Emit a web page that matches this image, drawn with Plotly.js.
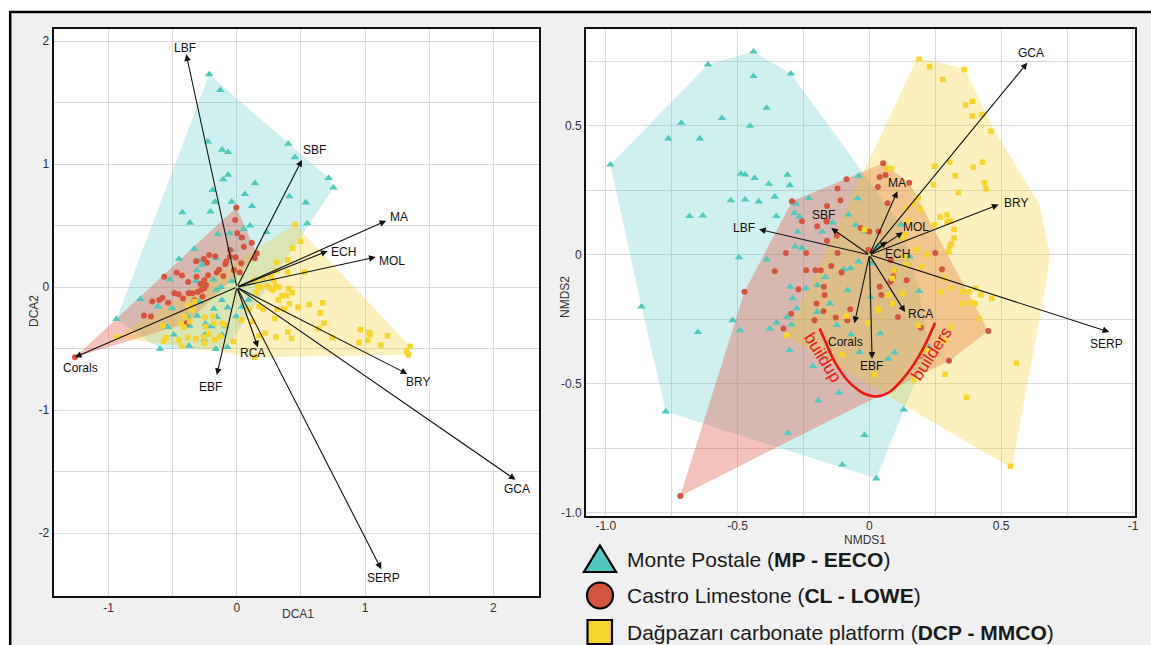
<!DOCTYPE html>
<html><head><meta charset="utf-8">
<script src="https://cdn.plot.ly/plotly-3.0.1.min.js"></script>
<style>html,body{margin:0;padding:0;background:#fff;}#chart{width:1151px;height:645px;}</style>
</head><body><div id="chart"></div>
<script>
// ================= DATA =================
const groupNames = ['Monte Postale', 'Castro Limestone', 'Dağpazarı carbonate platform'];
const groupCodes = ['MP - EECO', 'CL - LOWE', 'DCP - MMCO'];

// --- DCA (left panel) sample scores ---
const dcaMP = [
[-0.216,1.730],[-0.129,1.602],[-0.227,1.185],[-0.115,1.117],[-0.068,1.098],[0.400,1.166],[0.452,1.057],[0.715,0.888],[0.753,0.809],[0.142,0.845],[-0.068,0.913],[-0.107,0.877],[-0.189,0.790],[0.063,0.757],[0.408,0.738],
[-0.170,0.695],[-0.041,0.695],[0.118,0.659],[0.537,0.689],[0.549,0.519],[0.231,0.449],[0.036,0.403],
[-0.206,0.614],[-0.425,0.608],[-0.366,0.524],[0.103,0.500],[-0.149,0.430],[-0.057,0.438],[0.054,0.473],[-0.332,0.311],[-0.451,0.230],[-0.162,0.235],[-0.296,0.214],[-0.312,0.138],[-0.271,0.181],[-0.521,0.062],[-0.320,0.049],[-0.183,0.062],[-0.039,0.049],[-0.160,-0.022],[-0.124,0.000],[-0.753,-0.097],[-0.616,-0.157],[-0.505,-0.170],[-0.116,-0.105],[-0.289,-0.119],[-0.180,-0.176],[-0.072,-0.165],[0.039,-0.159],[-0.940,-0.260],[-0.392,-0.232],[-0.309,-0.232],[-0.157,-0.243],[-0.005,-0.238],[-0.245,-0.297],[-0.198,-0.319],[-0.088,-0.319],[-0.539,-0.324],[-0.369,-0.314],[-0.492,-0.386],[-0.250,-0.386],[-0.116,-0.386],[-0.600,-0.502],[-0.373,-0.476],[-0.164,-0.503],[-0.253,-0.427],[-0.074,-0.488],[-0.044,0.303],[0.090,-0.103]
];
const dcaCL = [
[-0.005,0.649],[-0.013,0.546],[0.003,0.438],[0.039,0.405],[0.116,0.362],[0.054,0.330],[-0.054,0.303],[0.155,0.276],[0.139,0.235],[-0.054,0.249],[-0.010,0.241],[-0.082,0.211],[-0.168,0.251],[-0.216,0.262],[-0.258,0.230],[-0.317,0.211],[-0.232,0.200],[0.034,0.195],[-0.090,0.189],[-0.139,0.143],[-0.157,0.119],[-0.023,0.141],[0.023,0.119],[-0.106,0.092],[-0.224,0.097],[-0.255,0.057],[-0.284,0.027],[-0.240,0.019],[-0.253,-0.008],[-0.314,0.086],[-0.379,0.043],[-0.469,0.119],[-0.428,0.095],[-0.567,0.086],[-0.278,-0.022],[-0.307,-0.038],[-0.348,-0.049],[-0.376,-0.049],[-0.454,-0.057],[-0.487,-0.049],[-0.420,-0.092],[-0.330,-0.105],[-0.268,-0.076],[-0.580,-0.086],[-0.606,-0.103],[-0.660,-0.116],[-0.536,-0.127],[-0.724,-0.230],[-0.670,-0.238],[-0.392,-0.292],[-1.263,-0.569]
];
const dcaDCP = [
[0.454,0.511],[0.495,0.373],[0.436,0.316],[0.310,0.203],[0.397,0.222],[0.313,0.135],[0.397,0.122],[0.528,0.122],[0.264,0.086],[0.290,0.051],[0.238,0.011],[0.256,-0.008],[0.303,0.005],[0.282,-0.022],[0.326,0.000],[0.405,-0.011],[0.431,-0.043],[0.351,-0.068],[0.385,-0.068],[0.323,-0.103],[0.410,-0.135],[0.477,-0.162],[0.564,-0.141],[0.669,-0.127],[0.651,-0.208],[0.369,-0.176],[0.313,-0.178],[0.172,-0.157],[0.205,-0.178],[0.162,0.005],[0.297,-0.254],[0.679,-0.292],[0.638,-0.338],[0.397,-0.365],[0.426,-0.416],[0.305,-0.405],[0.221,-0.373],[0.172,-0.395],[0.744,-0.411],[0.962,-0.346],[1.031,-0.368],[1.041,-0.386],[1.174,-0.395],[0.951,-0.449],[1.021,-0.432],[1.123,-0.470],[1.351,-0.481],[1.326,-0.522],[1.338,-0.549],[0.140,-0.570],[-0.026,-0.441],
[0.206,0.073],[0.137,0.059],[0.185,0.000],[0.149,-0.043],[0.093,-0.178],[0.034,-0.265],[-0.090,-0.305],[-0.379,-0.151],[-0.327,-0.116],[-0.351,-0.184],[-0.405,-0.238],[-0.412,-0.324],[-0.577,-0.314],[-0.552,-0.408],[-0.572,-0.441],[-0.451,-0.432],[-0.384,-0.408],[-0.320,-0.416],[-0.258,-0.405],[-0.245,-0.319],[-0.219,-0.378],[-0.129,-0.400],[-0.173,-0.427],[-0.250,-0.454],[-0.430,-0.481],[-0.940,-0.407],[-0.436,-0.298],[-0.367,-0.279],[-0.247,-0.244],[-0.184,-0.239],[-0.178,-0.293],[-0.115,-0.293],[0.036,-0.271],[0.123,-0.279]
];

// --- DCA variable vectors ---
const vecNames = ['LBF','SBF','MA','ECH','MOL','Corals','EBF','RCA','BRY','GCA','SERP'];
const dcaVecX   = [-0.395, 0.507, 1.164, 0.707, 1.082, -1.263, -0.156, 0.164, 1.329, 2.173, 1.126];
const dcaVecY   = [ 1.894, 1.035, 0.540, 0.294, 0.245, -0.569, -0.713, -0.488, -0.705, -1.566, -2.293];
const dcaLabX   = [-0.403, 0.605, 1.268, 0.830, 1.208, -1.216, -0.203, 0.123, 1.414, 2.186, 1.140];
const dcaLabY   = [ 1.948, 1.112, 0.569, 0.286, 0.215, -0.659, -0.808, -0.537, -0.767, -1.642, -2.361];

// --- NMDS (right panel) sample scores ---
const nmdsMP = [
[-0.440,0.788],[-0.613,0.738],[-0.298,0.703],[-0.440,0.693],[-0.390,0.570],[-0.560,0.530],[-0.714,0.512],[-0.453,0.500],[-0.763,0.451],[-0.644,0.451],[-0.983,0.350],[-0.488,0.315],[-0.472,0.311],[-0.436,0.298],[-0.311,0.310],[-0.382,0.275],[-0.302,0.270],[-0.041,0.306],[-0.526,0.211],[-0.472,0.214],[-0.420,0.207],[-0.359,0.225],[-0.230,0.220],[-0.045,0.219],[-0.683,0.150],[-0.632,0.152],[-0.353,0.150],[-0.279,0.198],[-0.284,0.162],[-0.266,0.148],[-0.179,0.090],[-0.273,0.090],[-0.140,0.125],[-0.080,0.156],[-0.052,0.115],[-0.015,0.091],[-0.282,0.032],[-0.256,0.026],[-0.495,-0.010],[-0.390,-0.018],[-0.041,-0.026],[-0.073,-0.052],[-0.099,-0.056],[-0.167,-0.086],[-0.198,-0.117],[-0.301,-0.124],[-0.241,-0.130],[-0.291,-0.169],[-0.083,-0.137],[0.004,-0.163],[0.189,-0.141],[-0.150,-0.189],[-0.865,-0.201],[-0.519,-0.254],[-0.353,-0.263],[-0.313,-0.241],[-0.295,-0.271],[-0.199,-0.221],[-0.124,-0.273],[0.119,0.117],[0.032,0.033],[0.010,-0.033],[0.153,-0.007],[-0.651,-0.300],[-0.491,-0.293],[-0.378,-0.286],[-0.303,-0.370],[-0.276,-0.208],[-0.070,-0.309],[-0.038,-0.377],[0.041,-0.305],[0.095,-0.379],[0.071,-0.403],[-0.214,-0.432],[-0.194,-0.565],[-0.116,-0.534],[-0.773,-0.608],[-0.310,-0.691],[-0.019,-0.699],[-0.103,-0.814],[0.026,-0.868],[0.130,-0.600],[0.226,-0.357]
];
const nmdsCL = [
[0.052,0.355],[0.039,0.302],[0.061,0.310],[0.032,0.263],[0.151,0.280],[-0.087,0.293],[-0.121,0.257],[-0.110,0.212],[-0.161,0.190],[-0.294,0.208],[-0.256,0.130],[-0.198,0.111],[-0.163,0.130],[-0.124,0.074],[-0.161,0.055],[-0.359,-0.064],[-0.317,0.007],[-0.240,0.007],[-0.121,0.007],[-0.033,0.104],[-0.001,0.091],[0.035,0.091],[-0.004,0.020],[-0.240,-0.060],[-0.205,-0.060],[-0.185,-0.060],[-0.145,-0.043],[-0.106,-0.068],[-0.269,-0.133],[-0.173,-0.124],[-0.170,-0.156],[-0.201,-0.189],[-0.174,-0.219],[-0.297,-0.228],[-0.208,-0.254],[-0.084,-0.254],[-0.128,-0.243],[-0.474,-0.143],[0.081,-0.021],[0.090,-0.085],[0.093,-0.061],[0.039,-0.124],[0.045,-0.156],[0.080,-0.104],[0.141,-0.098],[0.108,-0.241],[0.250,0.007],[0.275,-0.056],[-0.326,-0.286],[-0.073,-0.211],[0.195,-0.283],[0.451,-0.295],[0.302,-0.411],[-0.718,-0.935],[0.069,0.200],[-0.162,0.129]
];
const nmdsDCP = [
[0.188,0.759],[0.228,0.730],[0.360,0.719],[0.279,0.680],[0.365,0.581],[0.391,0.596],[0.391,0.539],[0.427,0.544],[0.461,0.480],[0.247,0.344],[0.305,0.359],[0.394,0.340],[0.429,0.359],[0.326,0.307],[0.243,0.272],[0.436,0.280],[0.442,0.256],[0.337,0.242],[0.068,0.335],[0.083,0.335],[0.185,0.221],[0.167,0.198],[0.138,0.182],[0.193,0.176],[0.267,0.147],[0.294,0.155],[0.295,0.128],[0.308,0.130],[0.321,0.098],[0.321,0.065],[0.311,0.043],[0.305,0.034],[0.301,0.013],[0.247,0.117],[0.148,0.130],[0.134,0.078],[0.129,0.065],[0.177,0.020],[0.218,0.000],[0.131,-0.007],[0.140,-0.039],[0.198,-0.046],[0.093,-0.059],[0.087,-0.091],[0.126,-0.150],[0.073,-0.156],[0.087,-0.189],[0.033,-0.215],[-0.006,-0.263],[-0.087,-0.237],[-0.019,0.098],[0.283,-0.091],[0.267,-0.143],[0.308,-0.130],[0.352,-0.143],[0.378,-0.143],[0.403,-0.130],[0.423,-0.154],[0.385,-0.185],[0.353,-0.189],[0.400,-0.189],[0.464,-0.169],[0.417,-0.247],[0.311,-0.280],[0.185,-0.273],
[-0.314,-0.312],[-0.102,-0.386],[0.020,-0.464],[0.169,-0.485],[0.287,-0.334],[0.287,-0.463],[0.369,-0.553],[0.558,-0.420],[0.535,-0.820],[0.215,-0.370],[0.034,-0.209]
];
// outline of the DCP group in the NMDS panel
const nmdsDCPHull = [[0.182,0.765],[0.362,0.722],[0.470,0.490],[0.646,0.193],[0.684,0.000],[0.672,-0.103],[0.540,-0.828],[-0.318,-0.316]];

// --- NMDS variable vectors ---
const nmdsVecX = [-0.419, -0.145, 0.106, 0.066, 0.127, -0.057, 0.010, 0.135, 0.490, 0.599, 0.910];
const nmdsVecY = [ 0.099,  0.104, 0.247, 0.052, 0.088, -0.265, -0.403, -0.222, 0.195, 0.745, -0.299];
const nmdsLabX = [-0.475, -0.176, 0.105, 0.106, 0.175, -0.089, 0.007, 0.192, 0.555, 0.613, 0.898];
const nmdsLabY = [ 0.104,  0.156, 0.280, 0.003, 0.108, -0.338, -0.433, -0.231, 0.202, 0.784, -0.344];

// --- "buildup builders" curve ---
const builderCurveX = [-0.189,-0.164,-0.128,-0.077,-0.019,0.030,0.076,0.127,0.170,0.207,0.249];
const builderCurveY = [-0.286,-0.344,-0.422,-0.494,-0.539,-0.549,-0.532,-0.481,-0.422,-0.357,-0.263];
const builderWords = ['buildup','builders'];
const builderWordX = [-0.178, 0.237];
const builderWordY = [-0.399, -0.384];

// ================= STYLE =================
const W = 1151, H = 645;
const FONT = 'Liberation Sans, Arial, sans-serif';
const colMarker = ['#4fc8be', '#d4553e', '#f6d42c'];
const colFill = ['rgba(80,200,195,0.27)', 'rgba(225,85,65,0.36)', 'rgba(242,205,40,0.30)'];
const symbols = ['triangle-up', 'circle', 'square'];
const msize = [7.5, 6, 5.5];
const px = v => v / W;
const py = v => 1 - v / H;

function convexHull(pts) {
  const p = pts.slice().sort((a, b) => a[0] - b[0] || a[1] - b[1]);
  const cr = (o, a, b) => (a[0]-o[0])*(b[1]-o[1]) - (a[1]-o[1])*(b[0]-o[0]);
  const lo = [], up = [];
  for (const q of p) { while (lo.length >= 2 && cr(lo[lo.length-2], lo[lo.length-1], q) <= 0) lo.pop(); lo.push(q); }
  for (let i = p.length - 1; i >= 0; i--) { const q = p[i]; while (up.length >= 2 && cr(up[up.length-2], up[up.length-1], q) <= 0) up.pop(); up.push(q); }
  lo.pop(); up.pop();
  return lo.concat(up);
}

const traces = [];
function addPanel(groups, hulls, xa, ya) {
  hulls.forEach((h, i) => {
    traces.push({type:'scatter', mode:'lines', x:h.map(d=>d[0]).concat([h[0][0]]), y:h.map(d=>d[1]).concat([h[0][1]]),
      fill:'toself', fillcolor:colFill[i], line:{width:0, color:'rgba(0,0,0,0)'}, xaxis:xa, yaxis:ya, hoverinfo:'skip', showlegend:false});
  });
  groups.forEach((g, i) => {
    traces.push({type:'scatter', mode:'markers', x:g.map(d=>d[0]), y:g.map(d=>d[1]),
      marker:{symbol:symbols[i], size:msize[i], color:colMarker[i], line:{width:0}}, xaxis:xa, yaxis:ya, showlegend:false, name:groupNames[i]});
  });
}
addPanel([dcaMP, dcaCL, dcaDCP], [convexHull(dcaMP), convexHull(dcaCL), convexHull(dcaDCP)], 'x', 'y');
addPanel([nmdsMP, nmdsCL, nmdsDCP], [convexHull(nmdsMP), convexHull(nmdsCL), nmdsDCPHull], 'x2', 'y2');

traces.push({type:'scatter', mode:'lines', x:builderCurveX, y:builderCurveY, line:{color:'#f01414', width:2.6, shape:'spline'},
  xaxis:'x2', yaxis:'y2', showlegend:false, hoverinfo:'skip'});

const annotations = [];
function addVectors(vx, vy, lx, ly, xr, yr) {
  vecNames.forEach((n, i) => {
    annotations.push({x:vx[i], y:vy[i], ax:0, ay:0, xref:xr, yref:yr, axref:xr, ayref:yr, text:'', showarrow:true,
      arrowhead:2, arrowsize:1.2, arrowwidth:1.1, arrowcolor:'#111'});
    annotations.push({x:lx[i], y:ly[i], xref:xr, yref:yr, xanchor:'center', yanchor:'middle', text:n, showarrow:false,
      font:{family:FONT, size:12, color:'#111'}});
  });
}
addVectors(dcaVecX, dcaVecY, dcaLabX, dcaLabY, 'x', 'y');
addVectors(nmdsVecX, nmdsVecY, nmdsLabX, nmdsLabY, 'x2', 'y2');

builderWords.forEach((w, i) => {
  annotations.push({x:builderWordX[i], y:builderWordY[i], xref:'x2', yref:'y2', xanchor:'center', yanchor:'middle', text:w, showarrow:false,
    textangle: i === 0 ? 58 : -57, font:{family:FONT, size:17, color:'#f01414'}});
});

// axis titles
const tFont = {family:FONT, size:12, color:'#333'};
function paperText(x, y, t, ang) {
  annotations.push({x:px(x), y:py(y), xref:'paper', yref:'paper', xanchor:'center', yanchor:'middle', text:t, showarrow:false,
    textangle:ang || 0, font:tFont});
}
paperText(298, 614, 'DCA1');
paperText(34, 311, 'DCA2', -90);
paperText(865, 540, 'NMDS1');
paperText(565, 297, 'NMDS2', -90);

// legend rows
const legY = [559, 595.5, 632];
groupNames.forEach((g, i) => {
  annotations.push({x:px(625), y:py(legY[i]), xref:'paper', yref:'paper', xanchor:'left', yanchor:'middle', showarrow:false,
    text: g + ' (<b>' + groupCodes[i] + '</b>)', font:{family:FONT, size:21, color:'#1a1a1a'}});
});

const shapes = [
  {type:'rect', xref:'paper', yref:'paper', x0:0, x1:1, y0:py(11), y1:1, fillcolor:'#fff', line:{width:0}, layer:'above'},
  {type:'rect', xref:'paper', yref:'paper', x0:0, x1:px(9.5), y0:0, y1:1, fillcolor:'#fff', line:{width:0}, layer:'above'},
  {type:'line', xref:'paper', yref:'paper', x0:px(9), x1:1, y0:py(12), y1:py(12), line:{color:'#000', width:2.5}, layer:'above'},
  {type:'line', xref:'paper', yref:'paper', x0:px(10.2), x1:px(10.2), y0:0, y1:py(11), line:{color:'#000', width:2.5}, layer:'above'},
  // legend symbols
  {type:'path', xref:'paper', yref:'paper', path:`M${px(600)},${py(545.5)} L${px(616)},${py(572)} L${px(584)},${py(572)} Z`,
    fillcolor:colMarker[0], line:{color:'#000', width:2.2}, layer:'above'},
  {type:'circle', xref:'paper', yref:'paper', x0:px(587), x1:px(613), y0:py(608.5), y1:py(582.5),
    fillcolor:colMarker[1], line:{color:'#000', width:2.2}, layer:'above'},
  {type:'rect', xref:'paper', yref:'paper', x0:px(587.5), x1:px(612), y0:py(644), y1:py(620),
    fillcolor:colMarker[2], line:{color:'#000', width:2.2}, layer:'above'}
];

const gridCol = '#d9d9d9';
function axis(extra) {
  return Object.assign({showgrid:true, gridcolor:gridCol, gridwidth:1, zeroline:false, showline:true, mirror:true,
    linecolor:'#111', linewidth:2, ticks:'', tickfont:{family:FONT, size:12, color:'#333'}, fixedrange:true, tickmode:'array'}, extra);
}

const layout = {
  width:W, height:H, margin:{l:0, r:0, t:0, b:0}, paper_bgcolor:'#f0f0f0', plot_bgcolor:'#fff', showlegend:false,
  font:{family:FONT},
  xaxis: axis({domain:[px(53.5), px(539)], range:[-1.43, 2.356], tickvals:[-1,0,1,2], ticktext:['-1','0','1','2'],
    minor:{dtick:0.5, tick0:0, showgrid:true, gridcolor:gridCol, gridwidth:1}, anchor:'y'}),
  yaxis: axis({domain:[py(595.5), py(28.5)], range:[-2.507, 2.104], tickvals:[-2,-1,0,1,2], ticktext:['-2','-1','0','1','2'],
    minor:{dtick:0.5, tick0:0, showgrid:true, gridcolor:gridCol, gridwidth:1}, anchor:'x'}),
  xaxis2: axis({domain:[px(586), px(1134.5)], range:[-1.0756, 1.0058], tickvals:[-1,-0.5,0,0.5,1], ticktext:['-1.0','-0.5','0','0.5','-1'],
    minor:{dtick:0.25, tick0:0, showgrid:true, gridcolor:gridCol, gridwidth:1}, anchor:'y2', ticklabelstandoff:-2}),
  yaxis2: axis({domain:[py(516), py(29.3)], range:[-1.013, 0.875], tickvals:[-1,-0.5,0,0.5], ticktext:['-1.0','-0.5','0','0.5'],
    minor:{dtick:0.25, tick0:0, showgrid:true, gridcolor:gridCol, gridwidth:1}, anchor:'x2'}),
  annotations: annotations,
  shapes: shapes
};

Plotly.newPlot('chart', traces, layout, {staticPlot:true, displayModeBar:false});
</script>
</body></html>
